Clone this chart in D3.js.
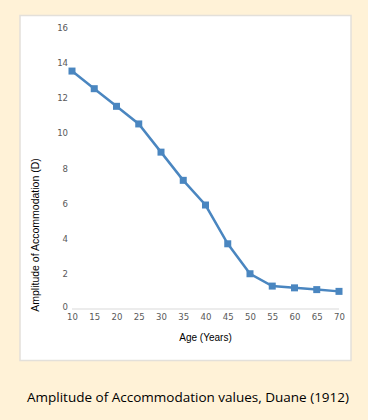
<!DOCTYPE html>
<html><head><meta charset="utf-8">
<script src="https://cdn.jsdelivr.net/npm/d3@7"></script>
<style>html,body{margin:0;padding:0;background:#FFF2D7;}svg{display:block;}</style>
</head><body>
<script>
const ages = [10,15,20,25,30,35,40,45,50,55,60,65,70];
const amplitude = [13.5,12.5,11.5,10.5,8.9,7.3,5.9,3.7,2.0,1.3,1.2,1.1,1.0];
const yTicks = [0,2,4,6,8,10,12,14,16];
const xTitle = "Age (Years)";
const yTitle = "Amplitude of Accommodation (D)";
const caption = "Amplitude of Accommodation values, Duane (1912)";

const W=368,H=420;
const svg=d3.select("body").append("svg").attr("width",W).attr("height",H);
svg.append("rect").attr("width",W).attr("height",H).attr("fill","#FFF2D7");
svg.append("rect").attr("x",20).attr("y",15.5).attr("width",331).attr("height",345)
  .attr("fill","#fff").attr("stroke","#E3E0DA").attr("stroke-width",1.5);

const x=d3.scaleLinear().domain([10,70]).range([72,339]);
const y=d3.scaleLinear().domain([0,16]).range([309,27]);

svg.append("line").attr("x1",x(10)).attr("x2",x(70)).attr("y1",y(0)).attr("y2",y(0))
  .attr("stroke","#D9D9D9").attr("stroke-width",1);

const xa=svg.append("g").attr("transform",`translate(0,${y(0)})`)
  .call(d3.axisBottom(x).tickValues(ages).tickSize(0).tickPadding(4));
xa.select(".domain").remove();
xa.selectAll("text").attr("fill","#595959").style("font-family","DejaVu Sans Condensed, DejaVu Sans, sans-serif").style("font-size","9.5px");

const ya=svg.append("g").attr("transform",`translate(${x(10)},0)`)
  .call(d3.axisLeft(y).tickValues(yTicks).tickSize(0).tickPadding(4));
ya.select(".domain").remove();
ya.selectAll("text").attr("fill","#595959").style("font-family","DejaVu Sans Condensed, DejaVu Sans, sans-serif").style("font-size","9.5px");
ya.selectAll("text").filter(d=>d===0).attr("dy","0.1em");

const data=ages.map((a,i)=>({a,v:amplitude[i]}));
svg.append("path").datum(data).attr("fill","none").attr("stroke","#4A86C0").attr("stroke-width",2.5)
  .attr("d",d3.line().x(d=>x(d.a)).y(d=>y(d.v)));
svg.selectAll("rect.m").data(data).enter().append("rect").attr("class","m")
  .attr("x",d=>x(d.a)-3.5).attr("y",d=>y(d.v)-3.5).attr("width",7).attr("height",7)
  .attr("fill","#4A86C0");

svg.append("text").attr("x",(x(10)+x(70))/2).attr("y",341).attr("text-anchor","middle")
  .style("font-family","Liberation Sans, Arial, sans-serif").style("font-size","10px").attr("fill","#000").text(xTitle);
svg.append("text").attr("transform",`translate(39,235) rotate(-90)`).attr("text-anchor","middle")
  .style("font-family","Liberation Sans, Arial, sans-serif").style("font-size","10.5px").attr("fill","#000").text(yTitle);

svg.append("text").attr("x",188).attr("y",402).attr("text-anchor","middle")
  .style("font-family","Open Sans, sans-serif").style("font-size","13.5px").attr("fill","#000").text(caption);
</script>
</body></html>
